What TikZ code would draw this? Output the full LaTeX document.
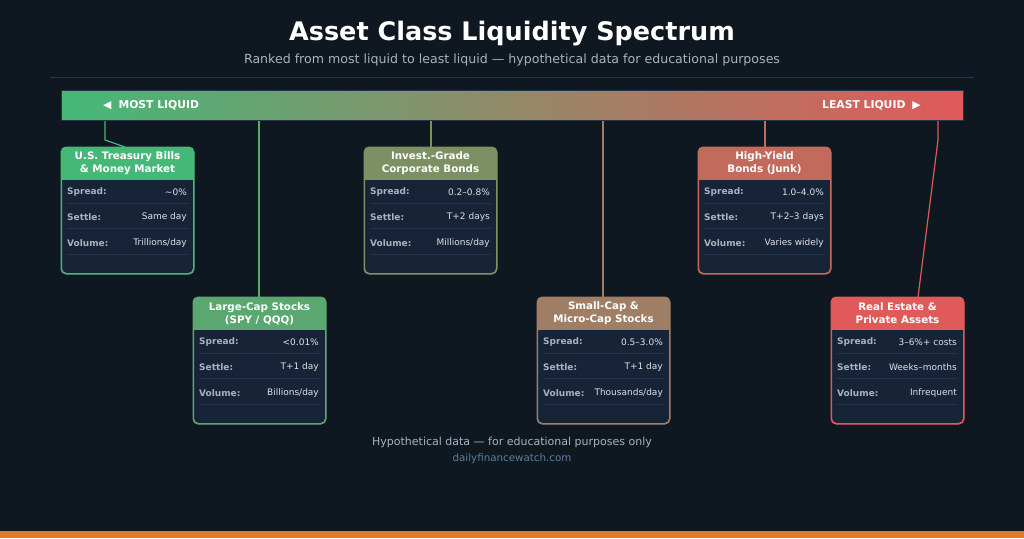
\documentclass[tikz,border=0pt]{standalone}
\usepackage{fontspec}
\setmainfont{DejaVu Sans}
\usepackage{xcolor}
\usetikzlibrary{positioning,calc}
\definecolor{bg}{HTML}{0F1720}
\definecolor{body}{HTML}{172438}
\definecolor{rule}{HTML}{24344A}
\definecolor{lbl}{HTML}{A8B3C0}
\definecolor{val}{HTML}{DCE2E8}
\definecolor{site}{HTML}{5A7FA0}
\definecolor{cA}{HTML}{45B878}
\definecolor{cB}{HTML}{5AA870}
\definecolor{cC}{HTML}{7D9063}
\definecolor{cD}{HTML}{A07E66}
\definecolor{cE}{HTML}{C26B5D}
\definecolor{cF}{HTML}{E05A5A}
\definecolor{accent}{HTML}{E07B28}
\tikzset{
  cardbox/.style={draw=#1, line width=1pt, fill=body, rounded corners=5pt,
    minimum width=132pt, minimum height=126pt, anchor=north west, inner sep=0pt},
  headtxt/.style={text=white, font=\fontsize{10.3}{13}\selectfont\bfseries, align=center},
  rowlbl/.style={text=lbl, font=\fontsize{9}{10}\selectfont\bfseries, anchor=west, inner sep=0pt},
  rowval/.style={text=val, font=\fontsize{9}{10}\selectfont, anchor=east, inner sep=0pt},
  link/.style={draw=#1, line width=1.2pt}
}
% #1 name, #2 x, #3 y, #4 colour, #5 title, #6 spread, #7 settle, #8 volume
\newcommand{\assetcard}[8]{
  \node[cardbox=#4] (#1) at (#2,#3) {};
  \begin{scope}
    \clip[rounded corners=5pt] (#1.north west) rectangle (#1.south east);
    \fill[#4] (#1.north west) rectangle ($(#1.north east)+(0,33)$);
  \end{scope}
  \draw[#4, line width=1pt, rounded corners=5pt] (#1.north west) rectangle (#1.south east);
  \node[headtxt] (#1-head) at ($(#1.north)+(0,16.5)$) {#5};
  \foreach \k/\l/\v in {0/Spread:/{#6},1/Settle:/{#7},2/Volume:/{#8}} {
    \node[rowlbl] at ($(#1.north west)+(6,45+25.5*\k)$) {\l};
    \node[rowval] at ($(#1.north east)+(-7,45+25.5*\k)$) {\v};
    \draw[rule, line width=0.6pt] ($(#1.north west)+(6,56+25.5*\k)$) -- ($(#1.north east)+(-6,56+25.5*\k)$);
  }
}
\begin{document}
\begin{tikzpicture}[x=1pt, y=-1pt]
  \fill[bg] (0,0) rectangle (1024,538);
  \useasboundingbox (0,0) rectangle (1024,538);
  % heading
  \node[text=white, font=\fontsize{25.5}{30}\selectfont\bfseries] (title) at (512,34) {Asset Class Liquidity Spectrum};
  \node[text=lbl, font=\fontsize{12.6}{15}\selectfont] (subtitle) at (512,60) {Ranked from most liquid to least liquid — hypothetical data for educational purposes};
  \draw[rule, line width=0.6pt] (50,77) -- (974,77);
  % spectrum bar
  \node[draw=rule, line width=1pt, left color=cA, middle color=cD!80!cC, right color=cF,
        minimum width=902pt, minimum height=30pt, anchor=north west, inner sep=0pt] (bar) at (61,90) {};
  \node[text=white, font=\fontsize{10.8}{12}\selectfont\bfseries, anchor=west, inner sep=0pt] (most) at (103,105) {◀\hspace{7pt}MOST LIQUID};
  \node[text=white, font=\fontsize{10.8}{12}\selectfont\bfseries, anchor=east, inner sep=0pt] (least) at (921,105) {LEAST LIQUID\hspace{7pt}▶};
  % cards
  \assetcard{tbill}{61}{147}{cA}{U.S. Treasury Bills\\\& Money Market}{\textasciitilde 0\%}{Same day}{Trillions/day}
  \assetcard{large}{193}{297}{cB}{Large-Cap Stocks\\(SPY / QQQ)}{<0.01\%}{T+1 day}{Billions/day}
  \assetcard{corp}{364}{147}{cC}{Invest.-Grade\\Corporate Bonds}{0.2–0.8\%}{T+2 days}{Millions/day}
  \assetcard{small}{537}{297}{cD}{Small-Cap \&\\Micro-Cap Stocks}{0.5–3.0\%}{T+1 day}{Thousands/day}
  \assetcard{junk}{698}{147}{cE}{High-Yield\\Bonds (Junk)}{1.0–4.0\%}{T+2–3 days}{Varies widely}
  \assetcard{real}{831}{297}{cF}{Real Estate \&\\Private Assets}{3–6\%+ costs}{Weeks–months}{Infrequent}
  % connectors
  \coordinate (tbill-bend) at (105,140);
  \coordinate (real-bend) at (938,140);
  \draw[link=cA] (bar.south -| tbill-bend) -- (tbill-bend) -- ($(tbill.north west)+(64,0)$);
  \draw[link=cB] (bar.south -| 259,0) -- (large.north -| 259,0);
  \draw[link=cC] (bar.south -| 431,0) -- (corp.north -| 431,0);
  \draw[link=cD] (bar.south -| 603,0) -- (small.north -| 603,0);
  \draw[link=cE] (bar.south -| 765,0) -- (junk.north -| 765,0);
  \draw[link=cF] (bar.south -| real-bend) -- (real-bend) -- ($(real.north west)+(87,0)$);
  % footer
  \node[text=lbl, font=\fontsize{11}{13}\selectfont] (note) at (512,442) {Hypothetical data — for educational purposes only};
  \node[text=site, font=\fontsize{10.3}{12}\selectfont] (url) at (512,459) {dailyfinancewatch.com};
  \fill[accent] (0,531) rectangle (1024,538);
\end{tikzpicture}
\end{document}
